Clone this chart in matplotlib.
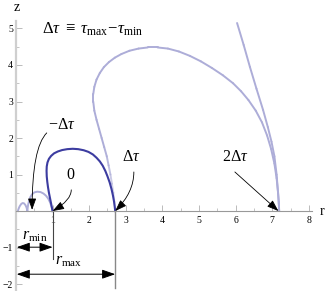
import numpy as np
import matplotlib
matplotlib.use("Agg")
import matplotlib.pyplot as plt
from matplotlib.collections import LineCollection

plt.rcParams['font.family'] = ['Liberation Serif', 'DejaVu Serif']
plt.rcParams['mathtext.fontset'] = 'custom'
plt.rcParams['mathtext.rm'] = 'Liberation Serif'
plt.rcParams['mathtext.it'] = 'Liberation Serif:italic'

# dark orbit (tau from 0 to delta tau)
dark_r = [1.0, 0.98, 0.96, 0.93, 0.90, 0.875, 0.855, 0.84, 0.835, 0.84, 0.86, 0.90,
          0.96, 1.04, 1.14, 1.26, 1.40, 1.55, 1.70, 1.85, 1.98, 2.10, 2.20, 2.29,
          2.37, 2.44, 2.50, 2.56, 2.61, 2.65, 2.68, 2.70, 2.71]
dark_z = [0.0, 0.10, 0.20, 0.35, 0.50, 0.65, 0.80, 0.95, 1.10, 1.22, 1.33, 1.43,
          1.51, 1.58, 1.63, 1.67, 1.695, 1.705, 1.695, 1.665, 1.62, 1.55, 1.46, 1.36,
          1.24, 1.10, 0.95, 0.78, 0.60, 0.42, 0.25, 0.10, 0.0]

# light orbit (tau beyond delta tau)
big_r = [2.71, 2.69, 2.66, 2.62, 2.58, 2.53, 2.48, 2.41, 2.34, 2.27, 2.20, 2.14,
         2.11, 2.11, 2.14, 2.20, 2.29, 2.40, 2.54, 2.70, 2.88, 3.10, 3.35, 3.60,
         3.87, 4.15, 4.45, 4.75, 5.05, 5.35, 5.65, 5.93, 6.15, 6.35, 6.55, 6.72,
         6.86, 6.97, 7.06, 7.12, 7.16, 7.18, 7.19,
         7.18, 7.16, 7.12, 7.06, 6.98, 6.88, 6.75, 6.57, 6.39, 6.22, 6.04]
big_z = [0.0, 0.25, 0.50, 0.75, 1.00, 1.25, 1.50, 1.75, 2.00, 2.25, 2.50, 2.75,
         3.00, 3.20, 3.40, 3.60, 3.78, 3.94, 4.08, 4.20, 4.30, 4.39, 4.45, 4.48,
         4.48, 4.45, 4.37, 4.25, 4.10, 3.92, 3.72, 3.50, 3.28, 3.04, 2.75, 2.43,
         2.07, 1.70, 1.30, 0.90, 0.50, 0.20, 0.0,
         0.25, 0.50, 1.00, 1.50, 1.90, 2.30, 2.77, 3.35, 3.95, 4.55, 5.15]

# light orbit (negative tau)
small_r = [1.0, 0.97, 0.93, 0.88, 0.82, 0.75, 0.67, 0.58, 0.50, 0.44, 0.39, 0.36,
           0.335, 0.32, 0.31,
           0.29, 0.26, 0.22, 0.18, 0.14, 0.10, 0.07, 0.05]
small_z = [0.0, 0.12, 0.24, 0.34, 0.42, 0.48, 0.52, 0.53, 0.51, 0.46, 0.38, 0.29,
           0.19, 0.09, 0.0,
           0.09, 0.16, 0.21, 0.22, 0.19, 0.13, 0.06, 0.0]

x_ticks = [1, 2, 3, 4, 5, 6, 7, 8]
y_ticks = [-2, -1, 1, 2, 3, 4, 5]
r_min = 1.0
r_max = 2.71

dark_col = '#3c3ca0'
light_col = '#adadd8'

fig = plt.figure(figsize=(3.27, 2.91), dpi=100)
ax = fig.add_axes([0, 0, 1, 1])
ax.set_xlim(-0.437, 8.497)
ax.set_ylim(-2.19, 5.78)

# axes lines
for s in ['top', 'right']:
    ax.spines[s].set_visible(False)
ax.spines['left'].set_position(('data', 0))
ax.spines['bottom'].set_position(('data', 0))
ax.spines['left'].set_bounds(-2.15, 5.2)
ax.spines['bottom'].set_bounds(0, 8.1)
ax.spines['left'].set_color('#cfcfcf')
ax.spines['left'].set_linewidth(1.6)
ax.spines['bottom'].set_color('#999999')
ax.spines['bottom'].set_linewidth(0.8)
ax.set_xticks(x_ticks)
ax.set_yticks(y_ticks)
ax.set_xticks(np.arange(0.5, 8.1, 0.5), minor=True)
ax.set_yticks(np.arange(-2.0, 5.1, 0.5), minor=True)
ax.tick_params(axis='both', which='major', direction='in', length=4, width=0.7,
               color='#bbbbbb', labelsize=7, pad=2)
ax.tick_params(axis='both', which='minor', direction='in', length=2, width=0.6,
               color='#bbbbbb')
ax.tick_params(axis='x', pad=3.5)
ax.set_xticklabels([str(t) for t in x_ticks])
ax.set_yticklabels(['\u22122', '\u22121', '1', '2', '3', '4', '5'])

ax.text(0.02, 5.4, 'z', fontsize=10, ha='center', va='bottom')
ax.text(8.35, 0.0, 'r', fontsize=10, ha='center', va='center')

# curves
ax.plot(small_r, small_z, color=light_col, lw=1.4, solid_joinstyle='round')
pts = np.column_stack([big_r, big_z])
segs = np.stack([pts[:-1], pts[1:]], axis=1)
ramp = [0.35, 0.45, 0.55, 0.65, 0.75, 0.85, 0.95]
cols = []
for i in range(len(segs)):
    a = ramp[i] if i < len(ramp) else 1.0
    cols.append(matplotlib.colors.to_rgba(light_col, a))
ax.add_collection(LineCollection(segs, colors=cols, lw=1.4, capstyle='round',
                                 joinstyle='round'))
ax.plot(dark_r, dark_z, color=dark_col, lw=1.5, solid_joinstyle='round')

# annotations
ap = dict(arrowstyle='-|>,head_length=0.7,head_width=0.25', color='black', lw=0.6,
          shrinkA=0, shrinkB=0)
ax.annotate('', xy=(0.44, 0.03), xytext=(0.84, 2.14),
            arrowprops=dict(ap, connectionstyle='angle3,angleA=45,angleB=90'))
ax.text(1.25, 2.36, r'$-\Delta\tau$', fontsize=11.5, ha='center', va='center')
ax.annotate('', xy=(1.0, 0.0), xytext=(1.51, 0.58),
            arrowprops=dict(ap, connectionstyle='angle3,angleA=90,angleB=30'))
ax.text(1.48, 0.98, '0', fontsize=11.5, ha='center', va='center')
ax.annotate('', xy=(2.71, 0.0), xytext=(3.22, 1.07),
            arrowprops=dict(ap, connectionstyle='angle3,angleA=90,angleB=45'))
ax.text(3.14, 1.48, r'$\Delta\tau$', fontsize=11.5, ha='center', va='center')
ax.annotate('', xy=(7.17, 0.0), xytext=(5.98, 1.07),
            arrowprops=dict(ap, connectionstyle='arc3,rad=0'))
ax.text(5.98, 1.48, r'$2\Delta\tau$', fontsize=11.5, ha='center', va='center')

ax.text(0.71, 4.98, r'$\Delta\tau\ \equiv\ \tau_{\mathrm{max}}\!-\!\tau_{\mathrm{min}}$',
        fontsize=12, ha='left', va='center')

# r_min / r_max markers
ax.plot([r_min, r_min], [0, -1.3], color='#444444', lw=0.8)
ax.plot([r_max, r_max], [0, -2.1], color='#888888', lw=1.0)
dap = dict(arrowstyle='<|-|>,head_length=0.8,head_width=0.28', color='black', lw=0.7,
           shrinkA=0, shrinkB=0)
ax.annotate('', xy=(0.02, -0.99), xytext=(r_min, -0.99), arrowprops=dap)
ax.annotate('', xy=(0.02, -1.73), xytext=(r_max, -1.73), arrowprops=dap)
ax.text(0.50, -0.79, r'$r_{\mathrm{min}}$', fontsize=11.5, ha='center', va='baseline')
ax.text(1.45, -1.47, r'$r_{\mathrm{max}}$', fontsize=11.5, ha='center', va='baseline')

fig.savefig('out.png', dpi=100)
